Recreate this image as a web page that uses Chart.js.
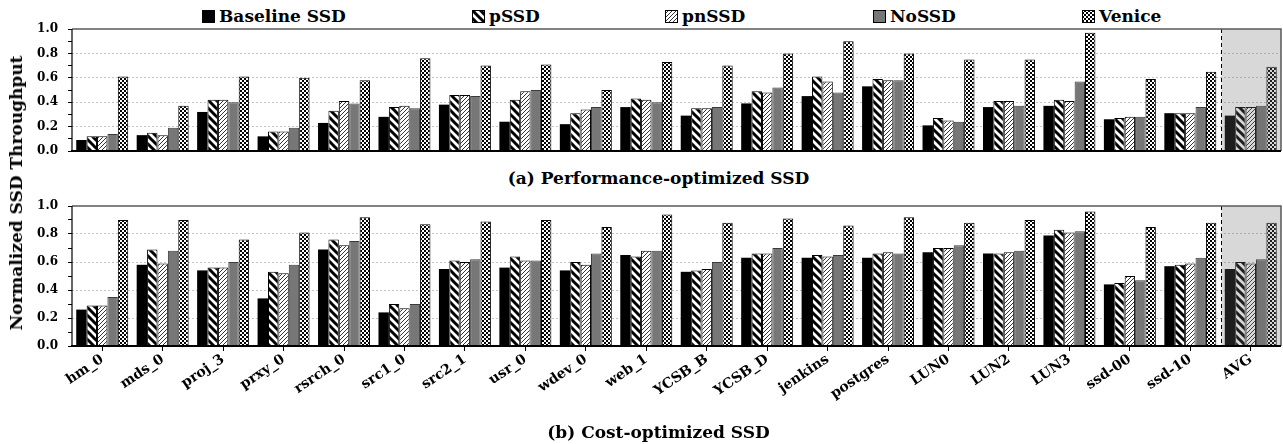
<!DOCTYPE html>
<html>
<head>
<meta charset="utf-8">
<script src="https://cdn.jsdelivr.net/npm/chart.js@4.4.1/dist/chart.umd.min.js"></script>
<style>
  html, body { margin: 0; padding: 0; background: #fff; }
  #wrap { position: relative; width: 1283px; height: 444px; overflow: hidden; font-family: "DejaVu Serif", serif; font-weight: bold; color: #000; }
  canvas.chart { position: absolute; left: 0; }
  .leg { position: absolute; top: 4px; height: 24px; display: flex; align-items: center; font-size: 17px; white-space: nowrap; }
  .leg canvas { width: 13px; height: 13px; margin-right: 4px; }
  .sub { position: absolute; left: 17px; width: 1283px; text-align: center; font-size: 17px; line-height: 20px; }
  #ytitle { position: absolute; left: 16px; top: 193px; transform: translate(-50%, -50%) rotate(-90deg); font-size: 17px; white-space: nowrap; }
</style>
</head>
<body>
<div id="wrap">
  <div id="legend"></div>
  <canvas id="c1" class="chart" width="1283" height="140" style="top:20px;width:1283px;height:140px"></canvas>
  <div class="sub" style="top:168px">(a) Performance-optimized SSD</div>
  <canvas id="c2" class="chart" width="1283" height="244" style="top:196px;width:1283px;height:244px"></canvas>
  <div class="sub" style="top:422px">(b) Cost-optimized SSD</div>
  <div id="ytitle">Normalized SSD Throughput</div>
</div>
<script>
// ---------------- DATA ----------------
const categories = ["hm_0","mds_0","proj_3","prxy_0","rsrch_0","src1_0","src2_1","usr_0","wdev_0","web_1","YCSB_B","YCSB_D","jenkins","postgres","LUN0","LUN2","LUN3","ssd-00","ssd-10","AVG"];
const seriesNames = ["Baseline SSD","pSSD","pnSSD","NoSSD","Venice"];
const yTickValues = [0.0, 0.2, 0.4, 0.6, 0.8, 1.0];

// (a) Performance-optimized SSD
const perfBaseline = [0.09,0.13,0.32,0.12,0.23,0.28,0.38,0.24,0.22,0.36,0.29,0.39,0.45,0.53,0.21,0.36,0.37,0.26,0.31,0.29];
const perfPSSD     = [0.12,0.15,0.42,0.16,0.33,0.36,0.46,0.42,0.31,0.43,0.35,0.49,0.61,0.59,0.27,0.41,0.42,0.27,0.31,0.36];
const perfPnSSD    = [0.12,0.13,0.42,0.16,0.41,0.37,0.46,0.49,0.34,0.42,0.35,0.48,0.57,0.58,0.25,0.41,0.41,0.28,0.31,0.36];
const perfNoSSD    = [0.14,0.19,0.40,0.19,0.39,0.35,0.45,0.50,0.36,0.40,0.36,0.52,0.48,0.58,0.24,0.37,0.57,0.28,0.36,0.37];
const perfVenice   = [0.61,0.37,0.61,0.60,0.58,0.76,0.70,0.71,0.50,0.73,0.70,0.80,0.90,0.80,0.75,0.75,0.97,0.59,0.65,0.69];

// (b) Cost-optimized SSD
const costBaseline = [0.26,0.58,0.54,0.34,0.69,0.24,0.55,0.56,0.54,0.65,0.53,0.63,0.63,0.63,0.67,0.66,0.79,0.44,0.57,0.55];
const costPSSD     = [0.29,0.69,0.56,0.53,0.76,0.30,0.61,0.64,0.60,0.64,0.54,0.66,0.65,0.66,0.70,0.66,0.83,0.45,0.58,0.60];
const costPnSSD    = [0.29,0.59,0.56,0.52,0.72,0.27,0.60,0.61,0.58,0.68,0.55,0.66,0.64,0.67,0.70,0.67,0.81,0.50,0.59,0.59];
const costNoSSD    = [0.35,0.68,0.60,0.58,0.75,0.30,0.62,0.61,0.66,0.68,0.60,0.70,0.65,0.66,0.72,0.68,0.82,0.47,0.63,0.62];
const costVenice   = [0.90,0.90,0.76,0.81,0.92,0.87,0.89,0.90,0.85,0.94,0.88,0.91,0.86,0.92,0.88,0.90,0.96,0.85,0.88,0.88];

// ---------------- PATTERNS ----------------
function tile(w, h, draw) {
  const c = document.createElement('canvas');
  c.width = w; c.height = h;
  const g = c.getContext('2d');
  draw(g, w, h);
  return c;
}
const tileWide = tile(8, 8, (g) => {
  g.fillStyle = '#fff'; g.fillRect(0, 0, 8, 8);
  g.strokeStyle = '#000'; g.lineWidth = 3;
  for (let k = -1; k <= 1; k++) { g.beginPath(); g.moveTo(k*8 - 2, -2); g.lineTo(k*8 + 10, 10); g.stroke(); }
});
const tileThin = tile(4, 4, (g) => {
  g.fillStyle = '#fff'; g.fillRect(0, 0, 4, 4);
  g.strokeStyle = '#333'; g.lineWidth = 1;
  for (let k = -1; k <= 1; k++) { g.beginPath(); g.moveTo(k*4 - 1, 5); g.lineTo(k*4 + 5, -1); g.stroke(); }
});
const tileCheck = tile(4, 4, (g) => {
  g.fillStyle = '#000'; g.fillRect(0, 0, 4, 4);
  g.fillStyle = '#fff'; g.fillRect(0, 0, 2, 2); g.fillRect(2, 2, 2, 2);
});
const mainCtx = document.getElementById('c1').getContext('2d');
const fills = [
  '#000',
  mainCtx.createPattern(tileWide, 'repeat'),
  mainCtx.createPattern(tileThin, 'repeat'),
  '#777777',
  mainCtx.createPattern(tileCheck, 'repeat')
];
const borders = ['#000', '#000', '#000', '#3a3a3a', '#000'];
const borderWidths = [0, 1, 1, 1, 1];

// ---------------- LEGEND (HTML) ----------------
const legendLefts = [202, 472, 665, 873, 1082];
const legendEl = document.getElementById('legend');
seriesNames.forEach((name, i) => {
  const item = document.createElement('div');
  item.className = 'leg';
  item.style.left = legendLefts[i] + 'px';
  const sw = document.createElement('canvas');
  sw.width = 13; sw.height = 13;
  const g = sw.getContext('2d');
  g.fillStyle = (i === 0 || i === 3) ? fills[i] : g.createPattern([null, tileWide, tileThin, null, tileCheck][i], 'repeat');
  g.fillRect(0, 0, 13, 13);
  g.strokeStyle = '#000'; g.lineWidth = 1; g.strokeRect(0.5, 0.5, 12, 12);
  item.appendChild(sw);
  const t = document.createElement('span');
  t.textContent = name;
  item.appendChild(t);
  legendEl.appendChild(item);
});

// ---------------- CHART HELPERS ----------------
const avgIndex = categories.indexOf('AVG');
const framePlugin = {
  id: 'frame',
  afterDatasetsDraw(chart) {
    const { ctx, chartArea: a, scales: { x } } = chart;
    const step = (a.right - a.left) / categories.length;
    const bx = Math.round(x.getPixelForValue(avgIndex) - step / 2) + 0.5;
    ctx.save();
    ctx.fillStyle = 'rgba(112,112,112,0.27)';
    ctx.fillRect(bx, a.top, a.right - bx, a.bottom - a.top);
    ctx.strokeStyle = '#000'; ctx.lineWidth = 1; ctx.setLineDash([4, 3]);
    ctx.beginPath(); ctx.moveTo(bx, a.top); ctx.lineTo(bx, a.bottom); ctx.stroke();
    ctx.setLineDash([]);
    ctx.strokeStyle = '#595959'; ctx.lineWidth = 1.5;
    ctx.beginPath(); ctx.moveTo(a.left, a.top); ctx.lineTo(a.right, a.top); ctx.lineTo(a.right, a.bottom); ctx.stroke();
    ctx.strokeStyle = '#000'; ctx.lineWidth = 1.2;
    ctx.beginPath(); ctx.moveTo(a.left, a.top); ctx.lineTo(a.left, a.bottom); ctx.stroke();
    ctx.lineWidth = 2;
    ctx.beginPath(); ctx.moveTo(a.left - 1, a.bottom); ctx.lineTo(a.right, a.bottom); ctx.stroke();
    ctx.restore();
  }
};

function makeChart(id, seriesValues, opts) {
  const datasets = seriesValues.map((vals, i) => ({
    label: seriesNames[i],
    data: vals,
    backgroundColor: fills[i],
    borderColor: borders[i],
    borderWidth: borderWidths[i],
    categoryPercentage: 0.86,
    barPercentage: 1.0
  }));
  return new Chart(document.getElementById(id), {
    type: 'bar',
    data: { labels: categories, datasets },
    plugins: [framePlugin],
    options: {
      responsive: false,
      animation: false,
      devicePixelRatio: 1,
      layout: { padding: opts.padding },
      plugins: { legend: { display: false }, tooltip: { enabled: false }, title: { display: false } },
      scales: {
        x: {
          grid: { display: opts.showX, drawOnChartArea: false, drawTicks: opts.showX, offset: false, tickLength: 5, tickColor: '#000', color: '#000' },
          border: { display: false },
          ticks: {
            display: opts.showX, autoSkip: false, minRotation: 34, maxRotation: 35, padding: 0,
            color: '#000', font: { family: 'DejaVu Serif', weight: 'bold', size: 14 }
          },
          afterCalculateLabelRotation(s) { s.labelRotation = 34; },
          afterFit(s) { s.height = opts.xHeight; s.paddingLeft = 0; s.paddingRight = 0; }
        },
        y: {
          min: 0, max: 1,
          afterBuildTicks(s) {
            const t = [];
            for (let k = 0; k <= 10; k++) t.push({ value: k / 10 });
            s.ticks = t;
          },
          grid: {
            drawOnChartArea: true, drawTicks: true, tickLength: 4, tickColor: '#000', tickWidth: 1,
            color: (c) => {
              const v = c.tick ? Math.round(c.tick.value * 10) : -1;
              return (v > 0 && v < 10 && v % 2 === 0) ? '#c4c4c4' : 'rgba(0,0,0,0)';
            }
          },
          border: { display: false, dash: [2, 2] },
          ticks: {
            autoSkip: false, padding: 10, color: '#000',
            font: { family: 'DejaVu Serif', weight: 'bold', size: 12 },
            callback: (v) => {
              const k = Math.round(v * 10);
              const match = yTickValues.find(tv => Math.round(tv * 10) === k);
              return match !== undefined ? match.toFixed(1) : '';
            }
          },
          afterFit(s) { s.width = 72; s.paddingTop = 0; s.paddingBottom = 0; }
        }
      }
    }
  });
}

makeChart('c1', [perfBaseline, perfPSSD, perfPnSSD, perfNoSSD, perfVenice],
  { padding: { top: 9, bottom: 9, left: 0, right: 2 }, showX: false, xHeight: 0 });
makeChart('c2', [costBaseline, costPSSD, costPnSSD, costNoSSD, costVenice],
  { padding: { top: 10, bottom: 0, left: 0, right: 2 }, showX: true, xHeight: 94 });
</script>
</body>
</html>
